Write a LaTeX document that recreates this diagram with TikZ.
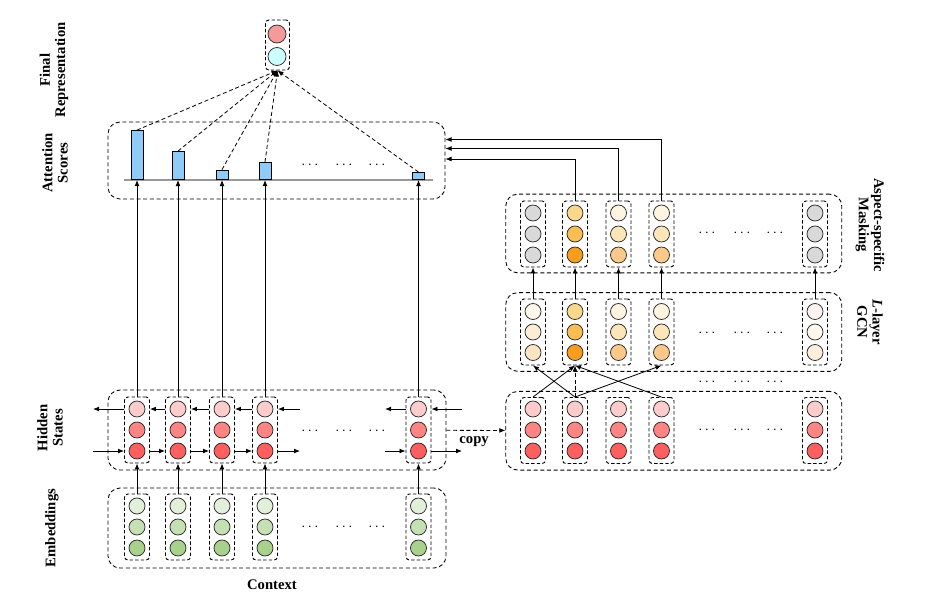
\documentclass[tikz,border=0pt]{standalone}
\usepackage{fontspec}
\setmainfont{Liberation Serif}
\usetikzlibrary{arrows.meta}

\definecolor{hsa}{HTML}{FFCCCC}
\definecolor{hsb}{HTML}{FF8585}
\definecolor{hsc}{HTML}{FF5F5F}
\definecolor{ema}{HTML}{E2F0D9}
\definecolor{emb}{HTML}{C5E0B4}
\definecolor{emc}{HTML}{A9D18E}
\definecolor{gy}{HTML}{D9D9D9}
\definecolor{ora}{HTML}{F9D88C}
\definecolor{orb}{HTML}{FBBE55}
\definecolor{orc}{HTML}{F99D1E}
\definecolor{pla}{HTML}{FEF4E0}
\definecolor{plb}{HTML}{FDE5BA}
\definecolor{plc}{HTML}{FCC98A}
\definecolor{qa}{HTML}{FDF8EA}
\definecolor{qb}{HTML}{FCEED6}
\definecolor{qc}{HTML}{FBE4C4}
\definecolor{ra}{HTML}{FEF3F0}
\definecolor{rb}{HTML}{FEF8EC}
\definecolor{rc}{HTML}{FEEEDC}
\definecolor{fina}{HTML}{F59A9A}
\definecolor{finb}{HTML}{CCFFFF}
\definecolor{barblue}{HTML}{8FCBF8}

\tikzset{
  cell/.style={circle, draw=black!85, line width=0.55pt, inner sep=0pt, minimum size=12pt},
  colbox/.style={draw, dash pattern=on 2.6pt off 1.6pt, line width=0.7pt, rounded corners=2.5pt,
    inner sep=0pt, minimum width=18.75pt, minimum height=49.5pt},
  layerbox/.style={draw, dash pattern=on 3pt off 2pt, line width=0.65pt, rounded corners=9pt,
    inner sep=0pt, minimum width=253.5pt, minimum height=59pt},
  bar/.style={draw, fill=barblue, line width=0.7pt, inner sep=0pt, minimum width=9pt, anchor=south},
  lab/.style={font=\bfseries\fontsize{11}{11.5}\selectfont, align=center},
  link/.style={line width=0.6pt, -{Latex[length=4.5pt,width=3.6pt]}},
  dlink/.style={link, dash pattern=on 3pt off 2pt},
  dots/.style={font=\fontsize{11}{11}\selectfont}
}

\begin{document}
\begin{tikzpicture}[x=0.75pt, y={(0pt,-0.75pt)}]

    \useasboundingbox (0,0) rectangle (930,604);

    % layer boxes
    \node[layerbox, minimum width=252.75pt, minimum height=57.75pt] (att) at (276.5,160.5) {};
    \node[layerbox, minimum height=60pt] (hid) at (277,430) {};
    \node[layerbox, minimum height=60pt] (emb) at (277,528) {};
    \node[layerbox, minimum width=252pt] (rhid) at (673.75,430.75) {};
    \node[layerbox, minimum width=252pt] (gcn) at (673.75,332) {};
    \node[layerbox, minimum width=252pt] (mask) at (673.75,233.5) {};

    % final representation
    \node[colbox, minimum height=37.5pt, minimum width=18pt] (fin) at (277.5,45) {};
    \node[cell, minimum size=13.5pt, fill=fina] (fin1) at (277,34) {};
    \node[cell, minimum size=13.5pt, fill=finb] (fin2) at (277,56.5) {};

    % baseline of the scores
    \coordinate (bl) at (124,180);
    \coordinate (br) at (433,180);
    \draw[black!40, line width=0.8pt] (bl) -- (br);

    % context columns
    \foreach \x/\h [count=\i] in {137/49, 178/28, 222/9.5, 265/17, 418.5/7}{
      \node[colbox] (hb\i) at (\x,430) {};
      \node[cell, fill=hsa] (h\i-1) at (\x,409) {};
      \node[cell, fill=hsb] (h\i-2) at (\x,430) {};
      \node[cell, fill=hsc] (h\i-3) at (\x,451) {};
      \node[colbox] (eb\i) at (\x,527) {};
      \node[cell, fill=ema] (e\i-1) at (\x,506) {};
      \node[cell, fill=emb] (e\i-2) at (\x,527) {};
      \node[cell, fill=emc] (e\i-3) at (\x,548) {};
      \coordinate (s\i) at (\x,180);
      \node[bar, minimum height=\h*0.75pt] (bar\i) at (s\i) {};
      \draw[link] (eb\i) -- (hb\i);
      \draw[link] (hb\i) -- (s\i);
      \draw[dlink] (bar\i.north) -- (fin.south);
    }

    % bidirectional links
    \foreach \i/\j in {1/2, 2/3, 3/4}{
      \draw[link] (hb\j.west |- h\j-1) -- (hb\i.east |- h\i-1);
      \draw[link] (hb\i.east |- h\i-3) -- (hb\j.west |- h\j-3);
    }
    \coordinate (lt) at (93,409);
    \coordinate (lb) at (93,451);
    \coordinate (mt) at (300,409);
    \coordinate (mb) at (300,451);
    \coordinate (nt) at (385,409);
    \coordinate (nb) at (385,451);
    \coordinate (rt) at (462,409);
    \coordinate (rb) at (462,451);
    \draw[link] (hb1.west |- h1-1) -- (lt);
    \draw[link] (lb) -- (hb1.west |- h1-3);
    \draw[link] (mt) -- (hb4.east |- h4-1);
    \draw[link] (hb4.east |- h4-3) -- (mb);
    \draw[link] (hb5.west |- h5-1) -- (nt);
    \draw[link] (nb) -- (hb5.west |- h5-3);
    \draw[link] (rt) -- (hb5.east |- h5-1);
    \draw[link] (hb5.east |- h5-3) -- (rb);

    % copy
    \draw[dlink] (hid) -- node[lab, below=1pt, pos=0.47] {copy} (rhid);

    % right columns
    \foreach \x/\ga/\gb/\gc/\ma/\mb/\mc [count=\i] in
      {533/qa/qb/qc/gy/gy/gy, 575/ora/orb/orc/ora/orb/orc, 618.5/pla/plb/plc/pla/plb/plc,
       661.5/pla/plb/plc/pla/plb/plc, 815/ra/rb/rc/gy/gy/gy}{
      \node[colbox] (rb\i) at (\x,430.5) {};
      \node[cell, fill=hsa] (r\i-1) at (\x,409) {};
      \node[cell, fill=hsb] (r\i-2) at (\x,430) {};
      \node[cell, fill=hsc] (r\i-3) at (\x,451) {};
      \node[colbox] (gb\i) at (\x,332) {};
      \node[cell, fill=\ga] (g\i-1) at (\x,311.5) {};
      \node[cell, fill=\gb] (g\i-2) at (\x,332) {};
      \node[cell, fill=\gc] (g\i-3) at (\x,352.5) {};
      \node[colbox] (mb\i) at (\x,234) {};
      \node[cell, fill=\ma] (m\i-1) at (\x,213) {};
      \node[cell, fill=\mb] (m\i-2) at (\x,234) {};
      \node[cell, fill=\mc] (m\i-3) at (\x,255) {};
      \draw[link] (gb\i) -- (mb\i);
    }

    % graph convolution
    \draw[link] (rb1.north) -- (gb2.south);
    \draw[link] (rb2.north) -- (gb1.south);
    \draw[link] (rb2.north) -- (gb4.south);
    \draw[link] (rb4.north) -- (gb2.south);
    \draw[dlink] (rb2.north) -- (gb2.south);

    % masked outputs to the scores
    \coordinate (in2) at (445.5,159);
    \coordinate (in3) at (445.5,148.5);
    \coordinate (in4) at (445.5,139.5);
    \draw[link, line width=0.5pt] (mb2.north) |- (in2);
    \draw[link, line width=0.5pt] (mb3.north) |- (in3);
    \draw[link, line width=0.5pt] (mb4.north) |- (in4);

    % dots
    \foreach \x in {310,344,377}{
      \node[dots] (da\x) at (\x,165) {$\cdots$};
      \node[dots] (dh\x) at (\x,431) {$\cdots$};
      \node[dots] (de\x) at (\x,527) {$\cdots$};
    }
    \foreach \x in {707,742,775}{
      \node[dots] (dm\x) at (\x,233) {$\cdots$};
      \node[dots] (dg\x) at (\x,333) {$\cdots$};
      \node[dots] (dl\x) at (\x,382) {$\cdots$};
      \node[dots] (dr\x) at (\x,430) {$\cdots$};
    }

    % labels
    \node[lab, rotate=90] (lfin) at (54,70) {Final\\Representation};
    \node[lab, rotate=90] (latt) at (55,163) {Attention\\Scores};
    \node[lab, rotate=90] (lhid) at (50,428) {Hidden\\States};
    \node[lab, rotate=90] (lemb) at (52,528) {Embeddings};
    \node[lab, rotate=-90] (lmask) at (870,225) {Aspect-specific\\Masking};
    \node[lab, rotate=-90] (lgcn) at (870,322) {\textit{L}-layer\\GCN};
    \node[lab] (lctx) at (272,585) {Context};

  \end{tikzpicture}
\end{document}
